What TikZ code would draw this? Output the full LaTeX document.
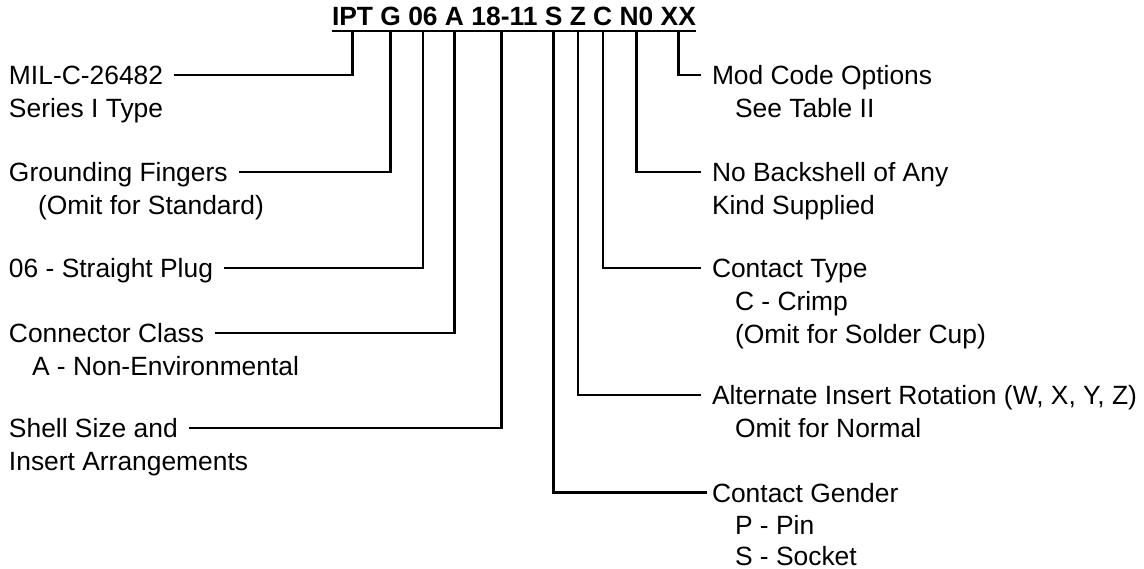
\documentclass[tikz,border=0pt]{standalone}
\usepackage{fontspec}
\setmainfont{Liberation Sans}
\usetikzlibrary{positioning}
\newcommand{\labelfont}{\fontsize{26.4}{33}\selectfont}
\tikzset{
  field/.style={font=\labelfont\bfseries, inner sep=0pt, outer sep=0pt, text height=19pt, text depth=5pt},
  lbl/.style={inner sep=0pt, outer sep=0pt, text height=19pt, text depth=0pt, anchor=south west},
  sub/.style={inner sep=0pt, outer sep=0pt, text height=19pt, text depth=0pt},
  lead/.style={line width=2.4pt, shorten >=11pt}
}

\begin{document}
\begin{tikzpicture}
		[
		x=1pt, y=-1pt,
		font=\labelfont,
		node distance=7.34pt
		]
		\useasboundingbox (0,0) rectangle (1144,569);
		% part number
		\node[field,anchor=south west] (ipt) at (332,31) {IPT};
		\node[field,right=of ipt] (g) {G};
		\node[field,right=of g] (o6) {06};
		\node[field,right=of o6] (a) {A};
		\node[field,right=of a] (size) {18-11};
		\node[field,right=of size] (s) {S};
		\node[field,right=of s] (z) {Z};
		\node[field,right=of z] (c) {C};
		\node[field,right=of c] (n0) {N0};
		\node[field,right=of n0] (xx) {XX};
		\draw[line width=2pt] (ipt.south west) -- (xx.south east);
		% left side
		\node[lbl] (mil) at (9,84.5) {MIL-C-26482};
		\node[sub,below right=14pt and 0pt of mil.south west] (mil2) {Series I Type};
		\node[lbl] (gnd) at (9,181.5) {Grounding Fingers};
		\node[sub,below right=14pt and 29pt of gnd.south west] (gnd2) {(Omit for Standard)};
		\node[lbl] (plug) at (9,277.5) {06 - Straight Plug};
		\node[lbl] (cls) at (9,342.5) {Connector Class};
		\node[sub,below right=14pt and 23pt of cls.south west] (cls2) {A - Non-Environmental};
		\node[lbl] (shell) at (9,437.5) {Shell Size and};
		\node[sub,below right=14pt and 0pt of shell.south west] (shell2) {Insert Arrangements};
		% right side
		\node[lbl] (mod) at (712,84.5) {Mod Code Options};
		\node[sub,below right=14pt and 23pt of mod.south west] (mod2) {See Table II};
		\node[lbl] (bks) at (712,181.5) {No Backshell of Any};
		\node[sub,below right=14pt and 0pt of bks.south west] (bks2) {Kind Supplied};
		\node[lbl] (ctype) at (712,277.5) {Contact Type};
		\node[sub,below right=14pt and 23pt of ctype.south west] (ctype2) {C - Crimp};
		\node[sub,below right=14pt and 0pt of ctype2.south west] (ctype3) {(Omit for Solder Cup)};
		\node[lbl] (rot) at (712,404.5) {Alternate Insert Rotation (W, X, Y, Z)};
		\node[sub,below right=14pt and 23pt of rot.south west] (rot2) {Omit for Normal};
		\node[lbl] (gend) at (712,502) {Contact Gender};
		\node[sub,below right=13pt and 23pt of gend.south west] (gend2) {P - Pin};
		\node[sub,below right=12.5pt and 0pt of gend2.south west] (gend3) {S - Socket};
		% leaders
		\draw[lead] (ipt.south) |- (mil.east);
		\draw[lead] (g.south) |- (gnd.east);
		\draw[lead] (o6.south) |- (plug.east);
		\draw[lead] (a.south) |- (cls.east);
		\draw[lead] ([xshift=-3pt]size.south) |- (shell.east);
		\draw[lead,shorten >=5pt] (s.south) |- (gend.west);
		\draw[lead] (z.south) |- (rot.west);
		\draw[lead] (c.south) |- (ctype.west);
		\draw[lead] (n0.south) |- (bks.west);
		\draw[lead] (xx.south) |- (mod.west);
\end{tikzpicture}
\end{document}
